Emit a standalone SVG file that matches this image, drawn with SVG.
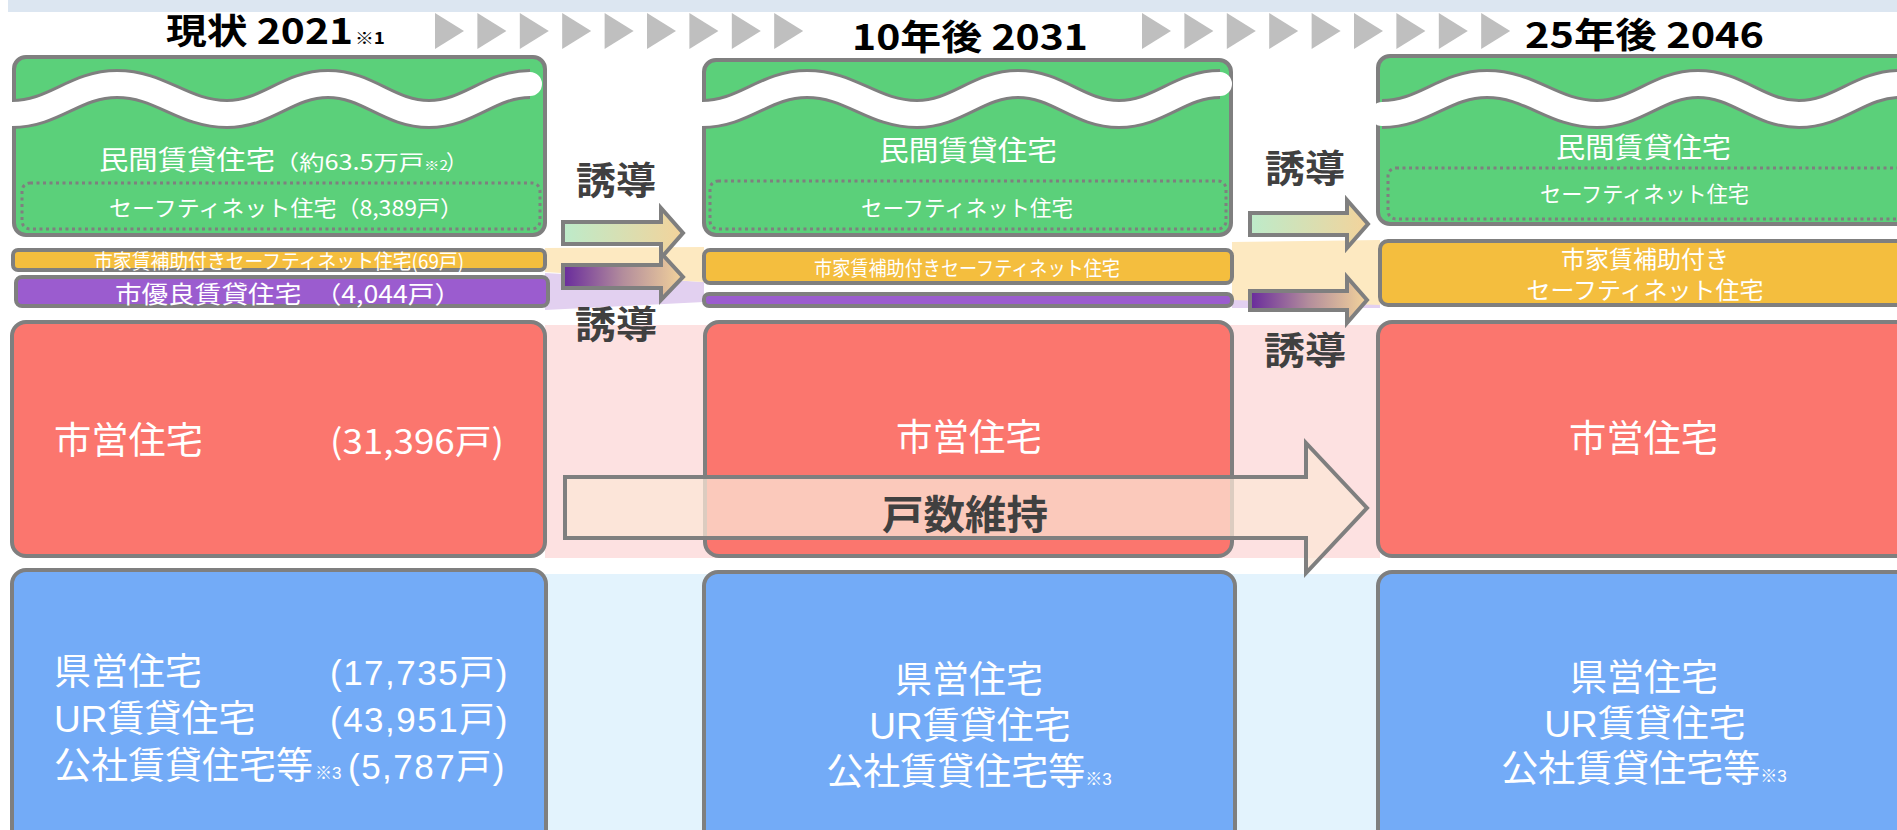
<svg xmlns="http://www.w3.org/2000/svg" xmlns:xlink="http://www.w3.org/1999/xlink" width="1897" height="830" viewBox="0 0 1897 830">
<style>
.box{stroke:#7f7f7f;stroke-width:4}
.green{fill:#5bd07a}
.yellow{fill:#f4be3e}
.purple{fill:#9b5ccf}
.red{fill:#fb766e}
.blue{fill:#73abf7}
.dot{fill:none;stroke:#7f7f7f;stroke-width:3;stroke-dasharray:3 3.5}
.wedge{fill:none;stroke:#7f7f7f;stroke-width:30;stroke-linecap:butt}
.wfill{fill:none;stroke:#ffffff;stroke-width:24;stroke-linecap:round}
.t{font-family:"Noto Sans CJK JP","Noto Sans",sans-serif;fill:#ffffff}
.t2{font-family:"Liberation Sans","Noto Sans CJK JP",sans-serif;fill:#ffffff}
.ttl{font-family:"Noto Sans CJK JP","Noto Sans",sans-serif;font-weight:bold;fill:#000000}
.lbl{font-family:"Noto Sans CJK JP","Noto Sans",sans-serif;font-weight:bold;fill:#404040}
.arr{stroke:#7f7f7f;stroke-width:4;stroke-linejoin:miter}
.chev{fill:#bfbfbf}
</style>
<defs>
<path id="wave" d="M12,114 C54,114 75,84 117,84 C161,84 183,114 227,114 C267,114 288,84 328,84 C368,84 389,114 429,114 C469,114 490,84 530,84"/>
<polygon id="chev" points="0,0 29,18 0,36"/>
<linearGradient id="gGreen" x1="0" y1="0" x2="1" y2="0">
<stop offset="0" stop-color="#bdebca"/>
<stop offset="1" stop-color="#f3d39b"/>
</linearGradient>
<linearGradient id="gPurple" x1="0" y1="0" x2="1" y2="0">
<stop offset="0" stop-color="#682a9c"/>
<stop offset="0.5" stop-color="#b38d9c"/>
<stop offset="1" stop-color="#f3d39b"/>
</linearGradient>
</defs>

<g id="background">
<rect x="8" y="0" width="1889" height="12" fill="#dce6f1"/>
<rect x="545" y="325" width="835" height="233" fill="#fde1e1"/>
<rect x="545" y="574" width="835" height="256" fill="#e3f3fd"/>
<polygon points="545,273 704,282 704,302 545,310" fill="#e2d0f0"/>
<polygon points="545,248 704,247 704,282 545,272" fill="#fde9c1"/>
<polygon points="1232,294 1380,302 1380,308 1232,308" fill="#e2d0f0"/>
<polygon points="1232,242 1380,240 1380,305 1232,300" fill="#fde9c1"/>
</g>

<g id="timeline">
<use xlink:href="#chev" class="chev" x="435" y="13"/>
<use xlink:href="#chev" class="chev" x="477.4" y="13"/>
<use xlink:href="#chev" class="chev" x="519.8" y="13"/>
<use xlink:href="#chev" class="chev" x="562.2" y="13"/>
<use xlink:href="#chev" class="chev" x="604.6" y="13"/>
<use xlink:href="#chev" class="chev" x="647" y="13"/>
<use xlink:href="#chev" class="chev" x="689.4" y="13"/>
<use xlink:href="#chev" class="chev" x="731.8" y="13"/>
<use xlink:href="#chev" class="chev" x="774.2" y="13"/>
<use xlink:href="#chev" class="chev" x="1142" y="13"/>
<use xlink:href="#chev" class="chev" x="1184.4" y="13"/>
<use xlink:href="#chev" class="chev" x="1226.8" y="13"/>
<use xlink:href="#chev" class="chev" x="1269.2" y="13"/>
<use xlink:href="#chev" class="chev" x="1311.6" y="13"/>
<use xlink:href="#chev" class="chev" x="1354" y="13"/>
<use xlink:href="#chev" class="chev" x="1396.4" y="13"/>
<use xlink:href="#chev" class="chev" x="1438.8" y="13"/>
<use xlink:href="#chev" class="chev" x="1481.2" y="13"/>
<text class="ttl" x="166" y="44" font-size="35" textLength="187" lengthAdjust="spacingAndGlyphs">現状 2021</text>
<text class="ttl" x="355" y="44" font-size="16" textLength="30" lengthAdjust="spacingAndGlyphs">※1</text>
<text class="ttl" x="852" y="50" font-size="35" textLength="236" lengthAdjust="spacingAndGlyphs">10年後 2031</text>
<text class="ttl" x="1525" y="48" font-size="35" textLength="239" lengthAdjust="spacingAndGlyphs">25年後 2046</text>
</g>

<!-- Column 1 : 2021 -->
<g id="c1-private">
<rect class="box green" x="14" y="57" width="531" height="178" rx="12"/>
<use xlink:href="#wave" class="wedge"/>
<use xlink:href="#wave" class="wfill"/>
<text class="t" x="99" y="170" font-size="27" textLength="176" lengthAdjust="spacingAndGlyphs">民間賃貸住宅</text>
<text class="t" x="274" y="170" font-size="21" textLength="150" lengthAdjust="spacingAndGlyphs">（約63.5万戸</text>
<text class="t" x="424" y="170" font-size="13" textLength="24" lengthAdjust="spacingAndGlyphs">※2</text>
<text class="t" x="446" y="170" font-size="21">）</text>
<rect class="dot" x="22" y="183" width="518" height="46" rx="8"/>
<text class="t" x="109" y="216" font-size="22" textLength="354" lengthAdjust="spacingAndGlyphs">セーフティネット住宅（8,389戸）</text>
</g>
<g id="c1-subsidy">
<rect class="box yellow" x="13" y="250" width="532" height="20" rx="5"/>
<text class="t" x="94" y="269" font-size="20" textLength="370" lengthAdjust="spacingAndGlyphs">市家賃補助付きセーフティネット住宅(69戸)</text>
</g>
<g id="c1-yuryo">
<rect class="box purple" x="16" y="277" width="532" height="29" rx="6"/>
<text class="t" x="115" y="303" font-size="24" textLength="346" lengthAdjust="spacingAndGlyphs">市優良賃貸住宅　（4,044戸）</text>
</g>
<g id="c1-municipal">
<rect class="box red" x="12" y="322" width="533" height="234" rx="14"/>
<text class="t" x="54" y="454" font-size="37" textLength="149" lengthAdjust="spacingAndGlyphs">市営住宅</text>
<text class="t" x="330" y="454" font-size="34" textLength="174" lengthAdjust="spacingAndGlyphs">(31,396戸)</text>
</g>
<g id="c1-public">
<rect class="box blue" x="12" y="570" width="534" height="300" rx="14"/>
<text class="t2" font-size="37"><tspan x="54" y="685">県営住宅</tspan><tspan x="330" y="685" font-size="35" letter-spacing="1.5">(17,735戸)</tspan><tspan x="54" y="732">UR賃貸住宅</tspan><tspan x="330" y="732" font-size="35" letter-spacing="1.5">(43,951戸)</tspan><tspan x="54" y="779">公社賃貸住宅等</tspan><tspan x="315" y="779" font-size="17">※3</tspan><tspan x="348" y="779" font-size="35" letter-spacing="1.5">(5,787戸)</tspan></text>
</g>

<!-- Column 2 : 2031 -->
<g id="c2-private">
<rect class="box green" x="704" y="60" width="527" height="175" rx="12"/>
<use xlink:href="#wave" class="wedge" transform="translate(690,0)"/>
<use xlink:href="#wave" class="wfill" transform="translate(690,0)"/>
<text class="t" x="879" y="161" font-size="28" textLength="178" lengthAdjust="spacingAndGlyphs">民間賃貸住宅</text>
<rect class="dot" x="710" y="181" width="516" height="48" rx="8"/>
<text class="t" x="861" y="216" font-size="22" textLength="212" lengthAdjust="spacingAndGlyphs">セーフティネット住宅</text>
</g>
<g id="c2-subsidy">
<rect class="box yellow" x="704" y="250" width="528" height="33" rx="6"/>
<text class="t" x="814" y="276" font-size="20" textLength="306" lengthAdjust="spacingAndGlyphs">市家賃補助付きセーフティネット住宅</text>
</g>
<g id="c2-yuryo">
<rect class="box purple" x="704" y="294" width="528" height="12" rx="5"/>
</g>
<g id="c2-municipal">
<rect class="box red" x="705" y="322" width="527" height="234" rx="14"/>
<text class="t" x="896" y="451" font-size="37" textLength="146" lengthAdjust="spacingAndGlyphs">市営住宅</text>
</g>
<g id="c2-public">
<rect class="box blue" x="704" y="572" width="531" height="300" rx="14"/>
<text class="t2" font-size="37" text-anchor="middle"><tspan x="969" y="693">県営住宅</tspan><tspan x="970" y="739">UR賃貸住宅</tspan><tspan x="969" y="785">公社賃貸住宅等<tspan font-size="17">※3</tspan></tspan></text>
</g>

<!-- Column 3 : 2046 -->
<g id="c3-private">
<rect class="box green" x="1378" y="56" width="600" height="168" rx="12"/>
<use xlink:href="#wave" class="wedge" transform="translate(1370,0)"/>
<use xlink:href="#wave" class="wfill" transform="translate(1370,0)"/>
<text class="t" x="1556" y="158" font-size="28" textLength="175" lengthAdjust="spacingAndGlyphs">民間賃貸住宅</text>
<rect class="dot" x="1388" y="168" width="600" height="51" rx="8"/>
<text class="t" x="1540" y="202" font-size="22" textLength="209" lengthAdjust="spacingAndGlyphs">セーフティネット住宅</text>
</g>
<g id="c3-subsidy">
<rect class="box yellow" x="1380" y="241" width="600" height="64" rx="8"/>
<text class="t2" font-size="24" text-anchor="middle"><tspan x="1645" y="268">市家賃補助付き</tspan><tspan x="1645" y="299">セーフティネット住宅</tspan></text>
</g>
<g id="c3-municipal">
<rect class="box red" x="1378" y="322" width="600" height="234" rx="14"/>
<text class="t" x="1569" y="452" font-size="37" textLength="149" lengthAdjust="spacingAndGlyphs">市営住宅</text>
</g>
<g id="c3-public">
<rect class="box blue" x="1378" y="572" width="600" height="300" rx="14"/>
<text class="t2" font-size="37" text-anchor="middle"><tspan x="1644" y="691">県営住宅</tspan><tspan x="1645" y="737">UR賃貸住宅</tspan><tspan x="1644" y="782">公社賃貸住宅等<tspan font-size="17">※3</tspan></tspan></text>
</g>

<g id="connectors">
<polygon class="arr" fill="url(#gGreen)" points="563,222 661,222 661,208 683,233 661,258 661,244 563,244"/>
<polygon class="arr" fill="url(#gPurple)" points="563,265 661,265 661,253 683,277 661,300 661,288 563,288"/>
<polygon class="arr" fill="url(#gGreen)" points="1250,213 1347,213 1347,200 1368,224 1347,248 1347,235 1250,235"/>
<polygon class="arr" fill="url(#gPurple)" points="1250,291 1347,291 1347,277 1367,300 1347,323 1347,310 1250,310"/>
<polygon class="arr" fill="#fbe5d6" fill-opacity="0.75" points="565,477 1306,477 1306,443 1367,508 1306,573 1306,538 565,538"/>
<text class="lbl" x="576" y="194" font-size="38" textLength="80" lengthAdjust="spacingAndGlyphs">誘導</text>
<text class="lbl" x="575" y="338" font-size="38" textLength="82" lengthAdjust="spacingAndGlyphs">誘導</text>
<text class="lbl" x="1265" y="182" font-size="38" textLength="80" lengthAdjust="spacingAndGlyphs">誘導</text>
<text class="lbl" x="1264" y="364" font-size="38" textLength="82" lengthAdjust="spacingAndGlyphs">誘導</text>
<text class="lbl" x="882" y="529" font-size="40" textLength="166" lengthAdjust="spacingAndGlyphs">戸数維持</text>
</g>
</svg>
